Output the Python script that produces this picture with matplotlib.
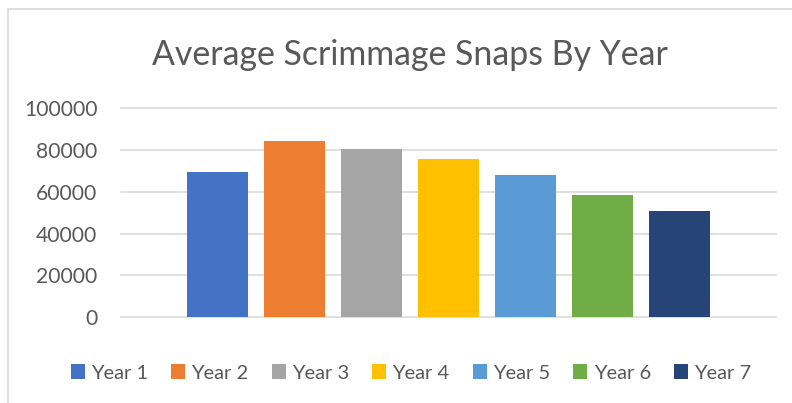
import matplotlib
matplotlib.use("Agg")
import matplotlib.pyplot as plt
from matplotlib.patches import Patch, Rectangle

# chart data
years = ["Year 1", "Year 2", "Year 3", "Year 4", "Year 5", "Year 6", "Year 7"]
snaps = [69400, 84200, 80400, 75600, 68000, 58400, 50800]
colors = ["#4472C4", "#ED7D31", "#A5A5A5", "#FFC000", "#5B9BD5", "#70AD47", "#264478"]
yticks = [0, 20000, 40000, 60000, 80000, 100000]

text_color = "#595959"
grid_color = "#D9D9D9"
plt.rcParams['font.family'] = ['Lato', 'DejaVu Sans']

W, H = 792, 403
fig = plt.figure(figsize=(W / 100, H / 100), dpi=100)

# axes placed in pixel terms
left, right, bottom, top = 121, 775.7, 317.3, 108
ax = fig.add_axes([left / W, (H - bottom) / H, (right - left) / W, (bottom - top) / H])

xs = list(range(len(years)))
ax.bar(xs, snaps, width=61 / 77, color=colors, zorder=3)

ax.set_xlim(-1.25, 7.25)
ax.set_ylim(0, 100000)
ax.set_yticks(yticks)
ax.set_yticklabels([str(v) for v in yticks])
ax.set_xticks([])
ax.tick_params(axis="y", length=0, pad=17, labelsize=15.2, labelcolor=text_color)
ax.yaxis.grid(True, color=grid_color, linewidth=1.2)
for gl in ax.get_ygridlines():
    gl.set_clip_on(False)
for s in ax.spines.values():
    s.set_visible(False)
ax.set_axisbelow(True)

fig.text(409.5 / W, (H - 65) / H, "Average Scrimmage Snaps By Year",
         ha="center", va="baseline", fontsize=24.4, color=text_color)

handles = [Patch(facecolor=c, edgecolor="none") for c in colors]
fig.legend(handles, years, loc="center", bbox_to_anchor=(411 / W, (H - 373) / H),
           ncol=7, frameon=False, fontsize=14.5, labelcolor=text_color,
           handlelength=0.7, handleheight=0.7, handletextpad=0.3, columnspacing=1.15)

# chart area border
fig.patches.append(Rectangle((8 / W, -0.05), 1.0, (H - 9.5) / H + 0.05,
                             transform=fig.transFigure, fill=False,
                             edgecolor=grid_color, linewidth=1.2))

fig.savefig("out.png", dpi=100, facecolor="white")
